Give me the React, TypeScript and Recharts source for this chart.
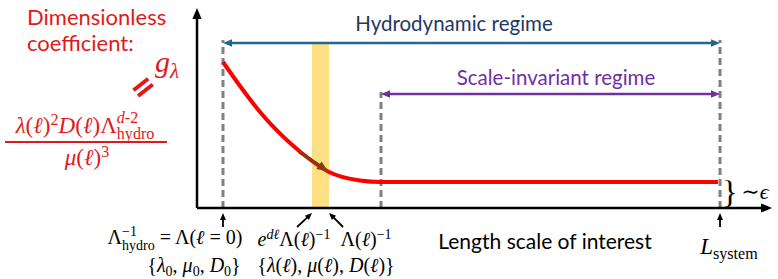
import React from 'react'
import { ComposedChart, Line, XAxis, YAxis, ReferenceLine, ReferenceArea } from 'recharts'

// coupling g_lambda read along the length scale (arbitrary units, 0..100)
const ellValues = [4.52, 7.48, 10.96, 16.17, 20.0, 22.96, 28.35, 32.0, 90.6]
const gValues = [73, 61, 48, 32.5, 23.5, 18, 13.75, 13, 13]

// marked length scales
const ellHydro = 4.52
const ellShellLow = 20.0
const ellShellHigh = 22.96
const ellCrossover = 32.0
const ellSystem = 90.96

// levels of the regime arrows and guide tops
const hydroLevel = 82.5
const scaleInvLevel = 57
const hydroGuideTop = 84
const crossoverGuideTop = 58
const shellTop = 83

const data = ellValues.map((ell, i) => ({ ell, g: gValues[i] }))

const serif = '"Liberation Serif", "DejaVu Serif", serif'
const sans = 'Lato, "Open Sans", sans-serif'

function arrowShape(color: string, width: number, head: number, both = false) {
  return (p: any) => {
    const { x1, y1, x2, y2 } = p
    const a = Math.atan2(y2 - y1, x2 - x1)
    const tri = (x: number, y: number, ang: number) => {
      const w = head * 0.42
      const bx = x - head * Math.cos(ang)
      const by = y - head * Math.sin(ang)
      return `${x},${y} ${bx + w * Math.sin(ang)},${by - w * Math.cos(ang)} ${bx - w * Math.sin(ang)},${by + w * Math.cos(ang)}`
    }
    const k = head * 0.7
    const sx = both ? x1 + k * Math.cos(a) : x1
    const sy = both ? y1 + k * Math.sin(a) : y1
    return (
      <g>
        <line x1={sx} y1={sy} x2={x2 - k * Math.cos(a)} y2={y2 - k * Math.sin(a)} stroke={color} strokeWidth={width} />
        <polygon points={tri(x2, y2, a)} fill={color} />
        {both && <polygon points={tri(x1, y1, a + Math.PI)} fill={color} />}
      </g>
    )
  }
}

function I({ children }: { children: React.ReactNode }) {
  return <span style={{ fontStyle: 'italic' }}>{children}</span>
}
function Sup({ children }: { children: React.ReactNode }) {
  return <span style={{ fontSize: '0.7em', verticalAlign: '0.5em', lineHeight: 0 }}>{children}</span>
}
function Sub({ children }: { children: React.ReactNode }) {
  return <span style={{ fontSize: '0.7em', verticalAlign: '-0.3em', lineHeight: 0 }}>{children}</span>
}
function SupSub({ sup, sub }: { sup: React.ReactNode; sub: React.ReactNode }) {
  return (
    <span style={{ display: 'inline-flex', flexDirection: 'column', fontSize: '0.7em', lineHeight: 1, verticalAlign: '0.6em' }}>
      <span>{sup}</span>
      <span>{sub}</span>
    </span>
  )
}

function Txt({ cx, cy, size, color = '#000', font = serif, children, rotate = 0, weight = 400 }: any) {
  return (
    <div
      style={{
        position: 'absolute',
        left: cx,
        top: cy,
        transform: `translate(-50%, -50%) rotate(${rotate}deg)`,
        whiteSpace: 'nowrap',
        fontFamily: font,
        fontSize: size,
        fontWeight: weight,
        color,
        lineHeight: 1.1
      }}
    >
      {children}
    </div>
  )
}

export default function App() {
  const red = '#e01a1a'
  const guide = '#808080'
  return (
    <div style={{ position: 'absolute', left: 0, top: 0, width: 778, height: 279, background: '#fff', overflow: 'hidden' }}>
      <ComposedChart width={778} height={279} data={data} margin={{ top: 8, right: 6, left: 197, bottom: 71 }}>
        <XAxis dataKey="ell" type="number" domain={[0, 100]} allowDataOverflow hide />
        <YAxis type="number" domain={[0, 100]} allowDataOverflow hide />
        <ReferenceArea x1={ellShellLow} x2={ellShellHigh} y1={0} y2={shellTop} fill="#fde084" fillOpacity={1} stroke="none" />
        {[
          [ellHydro, hydroGuideTop],
          [ellCrossover, crossoverGuideTop],
          [ellSystem, hydroGuideTop]
        ].map(([x, top]) => (
          <ReferenceLine
            key={x}
            segment={[{ x, y: 0 }, { x, y: top }]}
            stroke={guide}
            strokeWidth={3}
            strokeDasharray="7 4"
          />
        ))}
        <ReferenceLine
          segment={[{ x: ellHydro, y: hydroLevel }, { x: ellSystem, y: hydroLevel }]}
          shape={arrowShape('#22678c', 2.5, 9, true)}
        />
        <ReferenceLine
          segment={[{ x: ellCrossover, y: scaleInvLevel }, { x: ellSystem, y: scaleInvLevel }]}
          shape={arrowShape('#7030a0', 2.5, 9, true)}
        />
        <Line
          dataKey="g"
          type="monotone"
          stroke="#ff0000"
          strokeWidth={4}
          dot={false}
          isAnimationActive={false}
        />
        <ReferenceLine
          segment={[{ x: 17.8, y: 28 }, { x: 22.8, y: 18.3 }]}
          shape={arrowShape('#843c0c', 3, 11)}
          zIndex={1000}
        />
        {/* axes */}
        <ReferenceLine segment={[{ x: 0, y: 0 }, { x: 0, y: 100 }]} shape={arrowShape('#000', 2.5, 11)} ifOverflow="visible" />
        <ReferenceLine segment={[{ x: 0, y: 0 }, { x: 100, y: 0 }]} shape={arrowShape('#000', 2.5, 11)} ifOverflow="visible" />
        {/* pointers below the axis */}
        <ReferenceLine segment={[{ x: ellHydro, y: -9.5 }, { x: ellHydro, y: -2.5 }]} shape={arrowShape('#000', 1.8, 7)} ifOverflow="visible" />
        <ReferenceLine segment={[{ x: ellSystem, y: -9.5 }, { x: ellSystem, y: -2.5 }]} shape={arrowShape('#000', 1.8, 7)} ifOverflow="visible" />
        <ReferenceLine segment={[{ x: 17.4, y: -9.5 }, { x: ellShellLow, y: -2.5 }]} shape={arrowShape('#000', 1.8, 7)} ifOverflow="visible" />
        <ReferenceLine segment={[{ x: 25.4, y: -9.5 }, { x: ellShellHigh, y: -2.5 }]} shape={arrowShape('#000', 1.8, 7)} ifOverflow="visible" />
      </ComposedChart>

      {/* left: definition of the coefficient */}
      <div style={{ position: 'absolute', left: 27, top: 4, fontFamily: sans, fontSize: 22, color: red, lineHeight: '26px' }}>
        Dimensionless
        <br />
        coefficient:
      </div>
      <Txt cx={167} cy={61} size={30} color={red}>
        <I>g</I>
        <Sub>
          <I>λ</I>
        </Sub>
      </Txt>
      <Txt cx={142} cy={86} size={42} color={red} font={sans} weight={700} rotate={-38}>
        =
      </Txt>
      <Txt cx={85} cy={126} size={23} color={red}>
        <I>λ</I>(<I>ℓ</I>)<Sup>2</Sup>
        <I>D</I>(<I>ℓ</I>)Λ
        <SupSub
          sup={
            <>
              <I>d</I>-2
            </>
          }
          sub="hydro"
        />
      </Txt>
      <div style={{ position: 'absolute', left: 5, top: 141, width: 162, height: 2, background: red }} />
      <Txt cx={87} cy={158} size={23} color={red}>
        <I>μ</I>(<I>ℓ</I>)<Sup>3</Sup>
      </Txt>

      {/* regimes */}
      <Txt cx={454} cy={23} size={20.5} color="#1f3864" font={sans}>
        Hydrodynamic regime
      </Txt>
      <Txt cx={556} cy={77} size={20.5} color="#7030a0" font={sans}>
        Scale-invariant regime
      </Txt>

      {/* bottom labels */}
      <Txt cx={175} cy={239} size={20}>
        Λ<SupSub sup="−1" sub="hydro" /> = Λ(<I>ℓ</I> = 0)
      </Txt>
      <Txt cx={194} cy={265} size={20}>
        {'{'}
        <I>λ</I>
        <Sub>0</Sub>, <I>μ</I>
        <Sub>0</Sub>, <I>D</I>
        <Sub>0</Sub>
        {'}'}
      </Txt>
      <Txt cx={294} cy={239} size={20}>
        <I>e</I>
        <Sup>
          <I>dℓ</I>
        </Sup>
        Λ(<I>ℓ</I>)<Sup>−1</Sup>
      </Txt>
      <Txt cx={366} cy={239} size={20}>
        Λ(<I>ℓ</I>)<Sup>−1</Sup>
      </Txt>
      <Txt cx={326} cy={265} size={20}>
        {'{'}
        <I>λ</I>(<I>ℓ</I>), <I>μ</I>(<I>ℓ</I>), <I>D</I>(<I>ℓ</I>){'}'}
      </Txt>
      <Txt cx={545} cy={241} size={21} font={sans}>
        Length scale of interest
      </Txt>
      <Txt cx={729} cy={247} size={23}>
        <I>L</I>
        <Sub>system</Sub>
      </Txt>
      <Txt cx={730} cy={193} size={32} font={serif}>
        {'}'}
      </Txt>
      <Txt cx={755} cy={192} size={22}>
        ∼<I>ϵ</I>
      </Txt>
    </div>
  )
}
